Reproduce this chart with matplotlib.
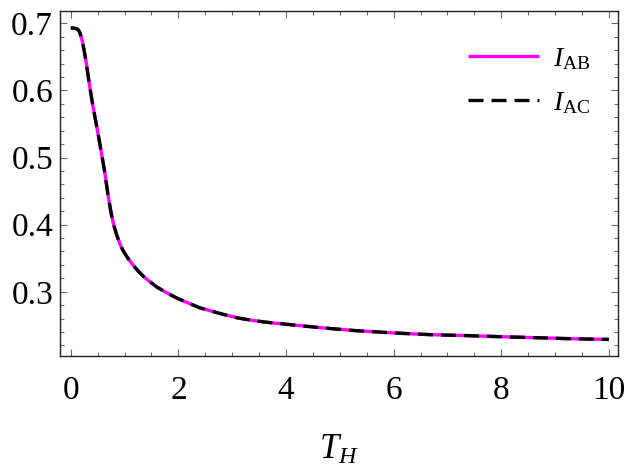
import numpy as np
import matplotlib.pyplot as plt
from matplotlib.ticker import MultipleLocator

plt.rcParams['font.family'] = ['Liberation Serif', 'DejaVu Serif']
plt.rcParams['mathtext.fontset'] = 'custom'
plt.rcParams['mathtext.rm'] = 'Liberation Serif'
plt.rcParams['mathtext.it'] = 'Liberation Serif:italic'

# values (I_AB and I_AC coincide)
T_H = [0.0, 0.05, 0.10, 0.13, 0.15, 0.173, 0.20, 0.223, 0.25, 0.284, 0.315,
       0.346, 0.38, 0.409, 0.45, 0.483, 0.515, 0.545, 0.58, 0.62, 0.66, 0.70,
       0.75, 0.80, 0.86, 0.92, 0.98, 1.07, 1.164, 1.25, 1.35, 1.47, 1.60,
       1.75, 1.91, 2.10, 2.40, 2.80, 3.10, 3.40, 3.70, 4.2, 4.63, 5.3, 6.03,
       6.7, 7.42, 8.0, 8.66, 9.3, 10.0]
I_AB = [0.693, 0.693, 0.692, 0.691, 0.689, 0.685, 0.678, 0.670, 0.659, 0.643,
        0.626, 0.609, 0.592, 0.578, 0.560, 0.546, 0.532, 0.518, 0.502, 0.484,
        0.462, 0.440, 0.417, 0.399, 0.383, 0.370, 0.360, 0.349, 0.339, 0.331,
        0.323, 0.315, 0.307, 0.300, 0.293, 0.286, 0.276, 0.267, 0.261, 0.257,
        0.254, 0.250, 0.2465, 0.242, 0.2385, 0.236, 0.2345, 0.233, 0.2315,
        0.230, 0.229]
I_AC = list(I_AB)

fig = plt.figure(figsize=(6.31, 4.73), dpi=100)
ax = fig.add_axes([0.0951, 0.2474, 0.8843, 0.7293])

ax.plot(T_H, I_AB, color='#ff00ff', lw=2.4, label=r'$I_{\mathrm{AB}}$',
        solid_capstyle='butt')
ax.plot(T_H, I_AC, color='black', lw=2.4, linestyle=(0, (4.5, 2.4)),
        label=r'$I_{\mathrm{AC}}$')

ax.set_xlim(-0.2, 10.17)
ax.set_ylim(0.2043, 0.7183)

ax.xaxis.set_major_locator(MultipleLocator(2))
ax.xaxis.set_minor_locator(MultipleLocator(0.5))
ax.yaxis.set_minor_locator(MultipleLocator(0.02))
ax.set_yticks([0.3, 0.4, 0.5, 0.6, 0.7])
ax.set_yticklabels(['0.3', '0.4', '0.5', '0.6', '0.7'])

ax.tick_params(which='both', direction='in', top=True, right=True,
               color='#666666', width=0.8)
ax.tick_params(which='major', length=5)
ax.tick_params(which='minor', length=3)
ax.tick_params(axis='x', labelsize=24, pad=14)
ax.tick_params(axis='y', labelsize=24, pad=5)
for s in ax.spines.values():
    s.set_color('#222222')
    s.set_linewidth(1.0)

ax.set_xlabel(r'$T_H$', fontsize=25, labelpad=20)

ax.legend(loc='upper right', bbox_to_anchor=(0.985, 0.955), frameon=False,
          fontsize=20, handlelength=2.55, handletextpad=0.5,
          labelspacing=0.65, borderaxespad=0.3)

fig.savefig('out.png', dpi=100)
